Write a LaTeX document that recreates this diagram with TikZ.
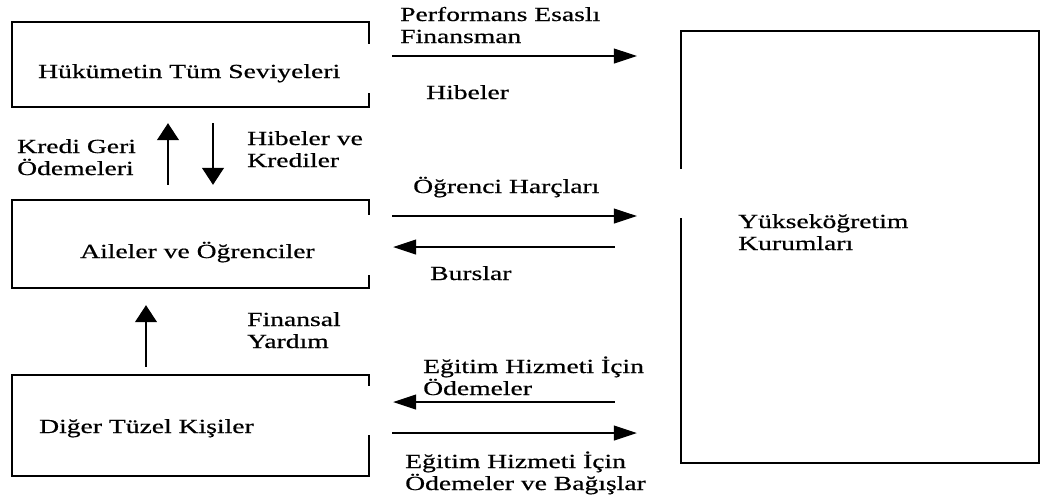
\documentclass[tikz,border=0pt]{standalone}
\usepackage{fontspec}
\setmainfont{Liberation Serif}[FakeStretch=1.38, FakeBold=0.6]
\usetikzlibrary{arrows.meta}

\tikzset{
  frame/.style={draw=none, minimum width=#1, inner sep=0pt},
  boxline/.style={line width=1.5pt, black},
  % multi-line labels sit on the baseline of their last line
  lbl/.style={anchor=base west, inner sep=0pt, align=left, font=\fontsize{20}{22}\selectfont},
  harrow/.style={line width=1.1pt, -{Triangle[length=23pt, width=15pt]}},
  varrow/.style={line width=1.1pt, -{Triangle[length=17pt, width=22pt]}},
}

\begin{document}
\begin{tikzpicture}[x=1pt, y=-1pt]
\useasboundingbox (0,0) rectangle (1046,499);

% the four boxes (outlines drawn separately, with their open stretches)
\node[frame=357pt, minimum height=85pt]  (gov) at (190.5, 64.5) {};
\node[frame=357pt, minimum height=88pt]  (fam) at (190.5, 244) {};
\node[frame=357pt, minimum height=101pt] (oth) at (190.5, 425.5) {};
\node[frame=358pt, minimum height=432pt] (hei) at (860, 247) {};

\draw[boxline] ([yshift=-22pt]gov.north east) -- (gov.north east) -- (gov.north west)
  -- (gov.south west) -- (gov.south east) -- ([yshift=14pt]gov.south east);
\draw[boxline] ([yshift=-15pt]fam.north east) -- (fam.north east) -- (fam.north west)
  -- (fam.south west) -- (fam.south east) -- ([yshift=13pt]fam.south east);
\draw[boxline] ([yshift=-11pt]oth.north east) -- (oth.north east) -- (oth.north west)
  -- (oth.south west) -- (oth.south east) -- ([yshift=41pt]oth.south east);
\draw[boxline] ([yshift=-138pt]hei.north west) -- (hei.north west) -- (hei.north east)
  -- (hei.south east) -- (hei.south west) -- ([yshift=245pt]hei.south west);

% box titles
\node[lbl] (govt) at (38, 78)  {Hükümetin Tüm Seviyeleri};
\node[lbl] (famt) at (80, 258) {Aileler ve Öğrenciler};
\node[lbl] (otht) at (39, 433) {Diğer Tüzel Kişiler};
\node[lbl] (heit) at (738, 250) {Yükseköğretim\\Kurumları};

% flow labels
\node[lbl] (lperf) at (400, 43)  {Performans Esaslı\\Finansman};
\node[lbl] (lhib)  at (426, 99)  {Hibeler};
\node[lbl] (lharc) at (413, 193) {Öğrenci Harçları};
\node[lbl] (lburs) at (430, 280) {Burslar};
\node[lbl] (lodm)  at (423, 395) {Eğitim Hizmeti İçin\\Ödemeler};
\node[lbl] (lbag)  at (405, 490) {Eğitim Hizmeti İçin\\Ödemeler ve Bağışlar};
\node[lbl] (lkgo)  at (17, 175)  {Kredi Geri\\Ödemeleri};
\node[lbl] (lhk)   at (247, 167) {Hibeler ve\\Krediler};
\node[lbl] (lfy)   at (247, 348) {Finansal\\Yardım};

% guide coordinates for the arrow positions
\coordinate (xa) at (168, 0);
\coordinate (xb) at (213, 0);
\coordinate (xc) at (146, 0);
\coordinate (ya) at (0, 56);
\coordinate (yb) at (0, 216);
\coordinate (yc) at (0, 247);
\coordinate (yd) at (0, 402);
\coordinate (ye) at (0, 433);

% vertical flows
\draw[varrow, shorten <=15pt, shorten >=16pt] (fam.north -| xa) -- (gov.south -| xa);
\draw[varrow, shorten <=16pt, shorten >=15pt] (gov.south -| xb) -- (fam.north -| xb);
\draw[varrow, shorten <=8pt, shorten >=17pt]  (oth.north -| xc) -- (fam.south -| xc);

% horizontal flows
\draw[harrow, shorten <=23pt, shorten >=44pt] (gov.east |- ya) -- (hei.west |- ya);
\draw[harrow, shorten <=23pt, shorten >=44pt] (fam.east |- yb) -- (hei.west |- yb);
\draw[harrow, shorten <=66pt, shorten >=24pt] (hei.west |- yc) -- (fam.east |- yc);
\draw[harrow, shorten <=66pt, shorten >=24pt] (hei.west |- yd) -- (oth.east |- yd);
\draw[harrow, shorten <=23pt, shorten >=44pt] (oth.east |- ye) -- (hei.west |- ye);
\end{tikzpicture}
\end{document}
